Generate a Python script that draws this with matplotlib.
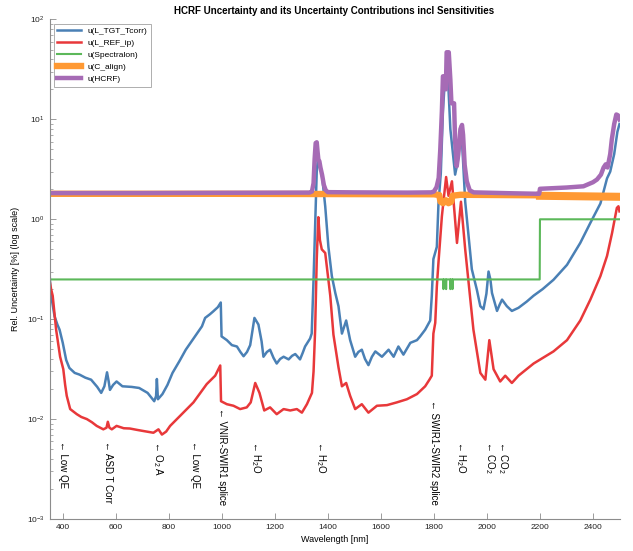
import numpy as np
import matplotlib
matplotlib.use('Agg')
import matplotlib.pyplot as plt
from matplotlib.ticker import LogLocator, NullFormatter, FixedLocator

plt.rcParams['font.family'] = ['Liberation Sans', 'DejaVu Sans']
plt.rcParams['mathtext.default'] = 'regular'

# ---- data ----
tgt_wl = [350, 353, 360, 369, 380, 388, 400, 413, 425, 445, 463, 485, 507, 530, 545, 557, 567, 573, 578, 590,
          603, 625, 660, 688, 720, 745, 752, 755, 759, 765, 776, 795, 814, 840, 864, 895, 925, 937, 955, 968,
          985, 996, 999, 1019, 1038, 1057, 1070, 1082, 1095, 1107, 1123, 1138, 1150, 1157, 1170, 1182, 1195,
          1207, 1220, 1233, 1252, 1265, 1277, 1295, 1305, 1314, 1333, 1339, 1346, 1352, 1358, 1362, 1368, 1377,
          1390, 1402, 1415, 1428, 1440, 1453, 1469, 1484, 1503, 1515, 1528, 1540, 1553, 1566, 1579, 1604, 1629,
          1648, 1666, 1685, 1711, 1736, 1748, 1767, 1786, 1792, 1798, 1811, 1817, 1826, 1834, 1840, 1848, 1855,
          1862, 1870, 1880, 1890, 1900, 1906, 1918, 1931, 1943, 1962, 1975, 1987, 1998, 2006, 2013, 2019, 2038,
          2048, 2057, 2075, 2094, 2119, 2150, 2176, 2210, 2251, 2302, 2352, 2390, 2428, 2453, 2465, 2480, 2492, 2500]
tgt_u = [0.30, 0.21, 0.15, 0.107, 0.088, 0.0785, 0.058, 0.039, 0.0325, 0.029, 0.0279, 0.026, 0.0248, 0.021,
         0.0183, 0.0213, 0.0294, 0.024, 0.0196, 0.022, 0.0238, 0.0213, 0.021, 0.0205, 0.0183, 0.0151, 0.017,
         0.0252, 0.0158, 0.0165, 0.0178, 0.022, 0.029, 0.038, 0.0495, 0.065, 0.0848, 0.103, 0.112, 0.120, 0.132,
         0.147, 0.0673, 0.0617, 0.055, 0.0533, 0.047, 0.0426, 0.047, 0.055, 0.103, 0.0885, 0.06, 0.0421, 0.047,
         0.0495, 0.041, 0.036, 0.040, 0.0421, 0.0396, 0.043, 0.0448, 0.0396, 0.046, 0.0533, 0.0641, 0.0718,
         0.25, 0.9, 3.0, 3.9, 3.4, 2.9, 1.35, 0.53, 0.27, 0.183, 0.135, 0.0718, 0.097, 0.0617, 0.0421, 0.047,
         0.0495, 0.040, 0.0347, 0.042, 0.0476, 0.0421, 0.0495, 0.0421, 0.0533, 0.0442, 0.058, 0.0617, 0.0673,
         0.0785, 0.097, 0.172, 0.40, 0.53, 1.4, 2.9, 12, 22, 35, 20, 8, 5.0, 2.8, 3.8, 6.5, 6.0, 1.5, 0.67,
         0.316, 0.197, 0.135, 0.126, 0.18, 0.30, 0.25, 0.183, 0.121, 0.14, 0.157, 0.135, 0.121, 0.13, 0.15,
         0.172, 0.20, 0.248, 0.35, 0.58, 0.92, 1.44, 2.57, 3.0, 4.5, 7.5, 9.0]

ref_wl = [350, 356, 362, 375, 390, 402, 409, 415, 428, 453, 470, 491, 510, 528, 553, 565, 570, 576, 585, 603,
          630, 653, 680, 704, 742, 761, 774, 790, 805, 843, 893, 943, 975, 994, 997, 1019, 1044, 1069, 1094,
          1109, 1126, 1142, 1160, 1182, 1207, 1233, 1258, 1283, 1302, 1321, 1340, 1346, 1352, 1358, 1364, 1370,
          1377, 1390, 1409, 1421, 1440, 1453, 1469, 1484, 1503, 1528, 1553, 1585, 1623, 1660, 1698, 1736, 1767,
          1783, 1792, 1798, 1805, 1811, 1817, 1830, 1846, 1855, 1868, 1887, 1902, 1918, 1931, 1949, 1975, 1994,
          2009, 2025, 2050, 2069, 2094, 2119, 2176, 2251, 2302, 2352, 2390, 2428, 2453, 2472, 2490, 2496, 2500]
ref_u = [0.248, 0.20, 0.172, 0.0785, 0.0421, 0.0316, 0.022, 0.0171, 0.0126, 0.0112, 0.0105, 0.010, 0.0093,
         0.00855, 0.0079, 0.0082, 0.0094, 0.0082, 0.0079, 0.00855, 0.0081, 0.00805, 0.0078, 0.0076, 0.0073,
         0.0079, 0.0070, 0.0075, 0.00855, 0.0108, 0.0147, 0.0224, 0.0272, 0.0344, 0.0151, 0.0141, 0.0136,
         0.0126, 0.0131, 0.0147, 0.0230, 0.0183, 0.0122, 0.0131, 0.0112, 0.0126, 0.0122, 0.0126, 0.0116, 0.0141,
         0.0183, 0.03, 0.0785, 0.4, 1.05, 0.62, 0.5, 0.46, 0.172, 0.07, 0.033, 0.0213, 0.023, 0.0171, 0.0126,
         0.0141, 0.0116, 0.0136, 0.0138, 0.0147, 0.0158, 0.0178, 0.0213, 0.0248, 0.0272, 0.0718, 0.092, 0.213,
         0.365, 1.07, 2.65, 1.72, 2.4, 0.58, 1.5, 0.5, 0.23, 0.0785, 0.029, 0.0248, 0.0617, 0.0316, 0.0238,
         0.0272, 0.023, 0.0272, 0.036, 0.0476, 0.0617, 0.097, 0.157, 0.27, 0.43, 0.73, 1.30, 1.35, 1.2]

spec_wl = [350, 1835, 1836, 1837, 1845, 1846, 1847, 1861, 1862, 1863, 1869, 1870, 1871, 2199, 2200, 2500]
spec_u = [0.25, 0.25, 0.2, 0.25, 0.25, 0.2, 0.25, 0.25, 0.2, 0.25, 0.25, 0.2, 0.25, 0.25, 1.0, 1.0]

align_wl = [350, 1000, 1800, 1820, 1825, 1835, 1845, 1855, 1865, 1870, 1900, 2190, 2200, 2500]
align_u = [1.80, 1.80, 1.78, 1.75, 1.5, 1.45, 1.55, 1.45, 1.5, 1.72, 1.76, 1.74, 1.72, 1.68]

hcrf_wl = [350, 700, 1000, 1330, 1340, 1346, 1350, 1354, 1358, 1361, 1364, 1368, 1372, 1378, 1385, 1392, 1400,
           1500, 1700, 1790, 1800, 1810, 1818, 1824, 1830, 1834, 1840, 1845, 1848, 1856, 1862, 1866, 1876, 1880,
           1886, 1892, 1900, 1906, 1910, 1916, 1924, 1935, 1950, 2100, 2197, 2200, 2300, 2364, 2400, 2415, 2430,
           2440, 2448, 2455, 2465, 2471, 2480, 2488, 2494, 2500]
hcrf_u = [1.83, 1.83, 1.84, 1.85, 1.9, 2.3, 4.0, 5.8, 5.9, 4.8, 4.0, 3.8, 3.3, 2.8, 2.2, 1.95, 1.87,
          1.86, 1.85, 1.86, 1.9, 2.1, 2.6, 5.0, 12, 27, 27, 20, 47, 47, 25, 14.5, 14.5, 6, 3.4, 4.5, 8.0, 8.8,
          7, 3.5, 2.4, 1.95, 1.86, 1.82, 1.80, 2.02, 2.08, 2.14, 2.35, 2.5, 2.8, 3.3, 3.55, 3.3, 4.5, 6.3, 9,
          11.2, 11, 10]

# feature markers along the bottom
mark_wl = [400, 570, 760, 900, 1000, 1130, 1375, 1800, 1900, 2010, 2060]
mark_txt = ['Low QE', 'ASD T Corr', 'O$_2$ A', 'Low QE', 'VNIR-SWIR1 splice', 'H$_2$O', 'H$_2$O',
            'SWIR1-SWIR2 splice', 'H$_2$O', 'CO$_2$', 'CO$_2$']
mark_y = [0.006, 0.006, 0.006, 0.006, 0.013, 0.006, 0.006, 0.0157, 0.006, 0.006, 0.006]

xticks = [400, 600, 800, 1000, 1200, 1400, 1600, 1800, 2000, 2200, 2400]

fig = plt.figure(figsize=(6.33, 5.51), dpi=100)
ax = fig.add_axes([49.5/633, 32/551, 570/633, 499.5/551])

ax.plot(tgt_wl, tgt_u, color='#4a80b5', lw=1.8, label='u(L_TGT_Tcorr)')
ax.plot(ref_wl, ref_u, color='#e8383a', lw=1.8, label='u(L_REF_ip)')
ax.plot(spec_wl, spec_u, color='#5cb85a', lw=1.5, label='u(Spectralon)')
ax.plot(align_wl, align_u, color='#ff9933', lw=4.6, label='u(C_align)')
# C_align gets noisier (looks thicker) past 2200 nm
i0 = align_wl.index(2200)
ax.plot(align_wl[i0:], align_u[i0:], color='#ff9933', lw=5.8)
ax.plot(hcrf_wl, hcrf_u, color='#a66bb5', lw=3.2, label='u(HCRF)')

for x, t, y in zip(mark_wl, mark_txt, mark_y):
    ax.text(x, y, '\u2190 ' + t, rotation=-90, ha='center', va='top', fontsize=7)

ax.set_yscale('log')
ax.set_xlim(350, 2500)
ax.set_ylim(1e-3, 1e2)
ax.xaxis.set_major_locator(FixedLocator(xticks))
ax.yaxis.set_major_locator(LogLocator(base=10, numticks=10))
ax.yaxis.set_minor_locator(LogLocator(base=10, subs=np.arange(2, 10), numticks=20))
ax.yaxis.set_minor_formatter(NullFormatter())

for s in ['top', 'right']:
    ax.spines[s].set_visible(False)
for s in ['left', 'bottom']:
    ax.spines[s].set_color('#8c8c8c')
    ax.spines[s].set_linewidth(0.8)
ax.tick_params(which='major', direction='in', length=4, width=0.6, colors='#8c8c8c', labelsize=6, labelcolor='#222222')
ax.tick_params(which='minor', direction='in', length=2.2, width=0.5, colors='#8c8c8c')

ax.set_xlabel('Wavelength [nm]', fontsize=6.5, labelpad=3)
ax.set_ylabel('Rel. Uncertainty [%] (log scale)', fontsize=6.5, labelpad=5)
ax.set_title('HCRF Uncertainty and its Uncertainty Contributions incl Sensitivities', fontsize=7, fontweight='bold', pad=4)

leg = ax.legend(loc='upper left', fontsize=6, frameon=True, fancybox=False, handlelength=2.8,
                borderaxespad=0.5, labelspacing=0.5, borderpad=0.45)
leg.get_frame().set_edgecolor('#999999')
leg.get_frame().set_linewidth(0.7)

plt.savefig('out.png', dpi=100)
